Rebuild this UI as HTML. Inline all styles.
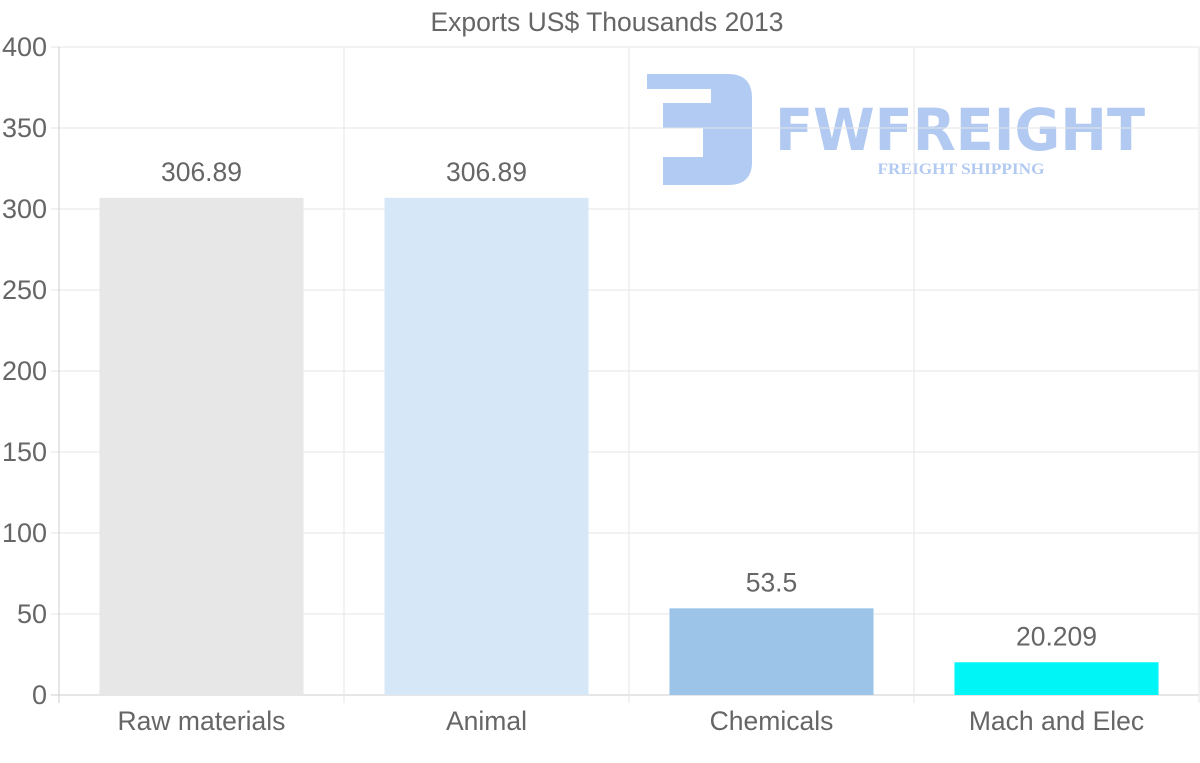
<!DOCTYPE html>
<html><head><meta charset="utf-8"><style>
html,body{margin:0;padding:0;background:#fff;}
svg{display:block;font-family:"Liberation Sans",Arial,sans-serif;}
</style></head><body>
<svg id="chart" width="1200" height="763" viewBox="0 0 1200 763">
<g opacity="0.95">
<path d="M647 74 H728 Q752 74 752 98 V162 Q752 185 728 185 H663 V157 H703 V128 H663 V103 H711 V89 H647 Z" fill="#aec8f2"/>
<text x="960" y="150" text-anchor="middle" font-size="58" font-weight="bold" fill="#aec8f2" textLength="370" lengthAdjust="spacingAndGlyphs" font-family="'DejaVu Sans',sans-serif">FWFREIGHT</text>
<text x="961" y="174" text-anchor="middle" font-size="16" font-weight="bold" fill="#aec8f2" font-family="'Liberation Serif',serif" textLength="167" lengthAdjust="spacingAndGlyphs">FREIGHT SHIPPING</text>
</g>
<text x="607" y="31" text-anchor="middle" font-size="26.5" fill="#666">Exports US$ Thousands 2013</text>
<g id="grid"></g><g id="bars"></g><g id="labels"></g>
</svg>
<script>
const categories = ["Raw materials","Animal","Chemicals","Mach and Elec"];
const values = [306.89, 306.89, 53.5, 20.209];
const valueLabels = ["306.89","306.89","53.5","20.209"];
const barColors = ["#e7e7e7","#d6e7f8","#9bc4e8","#00f5f7"];
const yTicks = [0,50,100,150,200,250,300,350,400];
const NS="http://www.w3.org/2000/svg";
const L=59,R=1199,T=47,B=695,yMax=400;
const y=v=>B-(B-T)*v/yMax;
const bw=(R-L)/categories.length;
const x=i=>L+bw*i;
function mk(tag,attrs,parent){const e=document.createElementNS(NS,tag);for(const k in attrs)e.setAttribute(k,attrs[k]);document.getElementById(parent).appendChild(e);return e;}
yTicks.forEach(t=>{
 const l=mk("line",{x1:51,x2:R,y1:y(t),y2:y(t),stroke:t===0?"#ccc":"#e6e6e6","stroke-width":1},"grid");
 
 
 const tx=mk("text",{x:47,y:y(t)+9,"text-anchor":"end","font-size":27,fill:"#666"},"grid");
 tx.textContent=t;
 
 
});
for(let i=0;i<=categories.length;i++){
 const l=mk("line",{x1:x(i),x2:x(i),y1:T,y2:703,stroke:i===0?"#ccc":"#e6e6e6","stroke-width":1},"grid");
 
 
}
categories.forEach((c,i)=>{
 const w=bw*0.716, cx=x(i)+bw/2;
 const r=mk("rect",{x:cx-w/2,y:y(values[i]),width:w,height:B-y(values[i]),fill:barColors[i]},"bars");
 
 
 const v=mk("text",{x:cx,y:y(values[i])-17,"text-anchor":"middle","font-size":26.5,fill:"#666"},"labels");
 v.textContent=valueLabels[i];
 
 
 const t=mk("text",{x:cx,y:730,"text-anchor":"middle","font-size":26.5,fill:"#666"},"labels");
 t.textContent=c;
 
 
});
</script>
</body></html>
